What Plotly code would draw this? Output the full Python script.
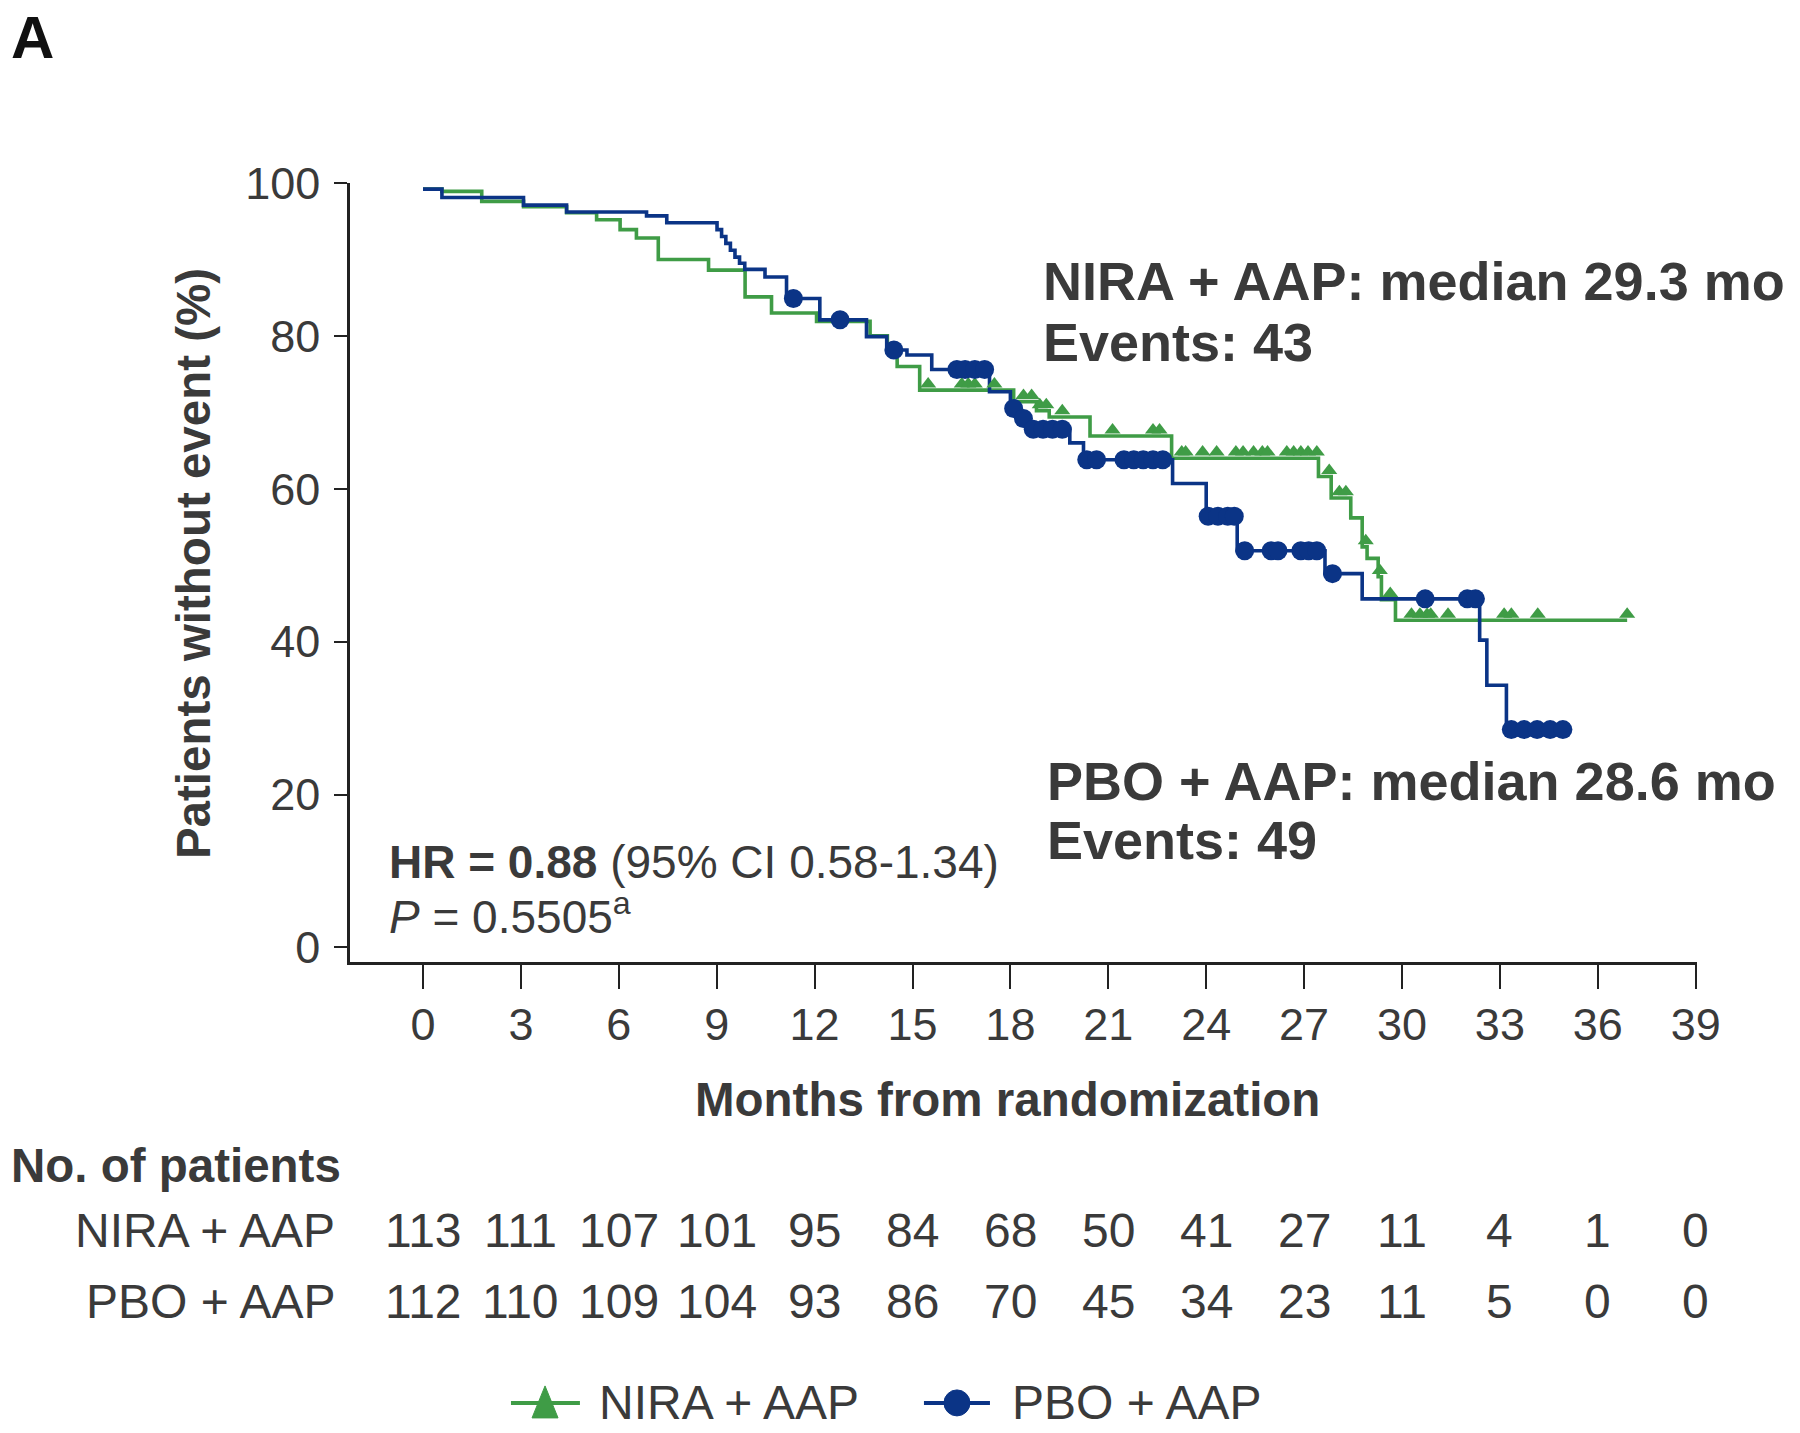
import plotly.graph_objects as go

# ---------------- data ----------------
nira_t = [0, 0.58, 1.80, 3.08, 4.40, 5.32, 6.04, 6.54, 7.21, 8.75, 9.87, 10.68, 12.06, 13.70, 14.23,
          14.53, 15.22, 18.10, 18.80, 19.19, 20.44, 22.94, 27.44, 27.83, 28.43, 28.78, 28.93, 29.27,
          29.37, 29.80]
nira_s = [99.2, 98.9, 97.6, 96.9, 96.1, 95.2, 93.9, 92.8, 90.0, 88.6, 85.1, 83.0, 81.9, 80.0, 78.3,
          76.0, 72.9, 71.4, 70.2, 69.4, 66.9, 64.0, 61.6, 58.8, 56.2, 52.4, 50.9, 48.5, 45.5, 42.8]
nira_end = 36.90
nira_cens = [15.48, 16.51, 16.71, 16.91, 17.51, 18.40, 18.65, 18.90, 19.10, 19.59, 21.13, 22.37,
             22.57, 23.25, 23.37, 23.89, 24.32, 24.91, 25.13, 25.45, 25.72, 25.88, 26.47, 26.68,
             26.90, 27.12, 27.39, 27.77, 28.08, 28.28, 28.89, 29.32, 29.64, 30.29, 30.55, 30.77,
             30.88, 31.41, 33.13, 33.35, 34.16, 36.90]

pbo_t = [0, 0.58, 3.08, 4.40, 6.85, 7.47, 9.01, 9.15, 9.28, 9.42, 9.56, 9.70, 9.86, 10.48, 11.14,
         12.16, 13.59, 14.21, 14.83, 15.59, 17.36, 18.00, 18.30, 18.60, 19.82, 20.24, 22.97, 24.00,
         24.95, 27.64, 28.78, 32.38, 32.60, 33.20]
pbo_s = [99.2, 98.1, 97.1, 96.2, 95.7, 94.8, 93.9, 93.0, 92.1, 91.2, 90.3, 89.5, 88.7, 87.7, 84.9,
         82.1, 79.9, 78.15, 77.5, 75.6, 72.7, 70.5, 69.2, 67.8, 66.0, 63.8, 60.7, 56.4, 51.9,
         48.9, 45.6, 40.2, 34.3, 28.5]
pbo_end = 34.93
pbo_cens = [11.35, 12.78, 14.43, 16.36, 16.61, 16.91, 17.21, 18.10, 18.40, 18.70, 19.00, 19.29,
            19.59, 20.34, 20.64, 21.48, 21.78, 22.07, 22.37, 22.67, 24.06, 24.36, 24.66, 24.86,
            25.18, 25.99, 26.20, 26.90, 27.14, 27.39, 27.87, 30.71, 32.00, 32.25, 33.35, 33.74,
            34.14, 34.54, 34.93]

x_ticks = [0, 3, 6, 9, 12, 15, 18, 21, 24, 27, 30, 33, 36, 39]
y_ticks = [0, 20, 40, 60, 80, 100]
risk_nira = [113, 111, 107, 101, 95, 84, 68, 50, 41, 27, 11, 4, 1, 0]
risk_pbo = [112, 110, 109, 104, 93, 86, 70, 45, 34, 23, 11, 5, 0, 0]

GREEN = "#3f9c46"
BLUE = "#0b3486"
TXT = "#3a3a3a"
FONT = "Arial, Liberation Sans, sans-serif"


def step_at(ts, ss, t):
    v = ss[0]
    for ti, si in zip(ts, ss):
        if ti <= t:
            v = si
    return v


fig = go.Figure()

fig.add_trace(go.Scatter(x=nira_t + [nira_end], y=nira_s + [nira_s[-1]], mode="lines",
                         line=dict(color=GREEN, width=3.6, shape="hv"), showlegend=False,
                         name="NIRA + AAP"))
fig.add_trace(go.Scatter(x=pbo_t + [pbo_end], y=pbo_s + [pbo_s[-1]], mode="lines",
                         line=dict(color=BLUE, width=3.6, shape="hv"), showlegend=False,
                         name="PBO + AAP"))
fig.add_trace(go.Scatter(x=nira_cens, y=[step_at(nira_t, nira_s, t) + 0.8 for t in nira_cens],
                         mode="markers", marker=dict(symbol="triangle-up", size=14, color=GREEN),
                         showlegend=False, cliponaxis=False))
fig.add_trace(go.Scatter(x=pbo_cens, y=[step_at(pbo_t, pbo_s, t) for t in pbo_cens],
                         mode="markers", marker=dict(symbol="circle", size=19, color=BLUE),
                         showlegend=False, cliponaxis=False))


def A(text, x, y, size, xanchor="center", xref="paper", color=TXT, angle=0):
    return dict(text=text, x=x, y=y, xref=xref, yref="paper", xanchor=xanchor,
                yanchor="middle", showarrow=False, textangle=angle,
                font=dict(size=size, color=color))


ann = []
ann.append(A("<b>Patients without event (%)</b>", -0.1166, 0.512, 47.5, angle=-90))
ann.append(A("<b>Months from randomization</b>", 0.4878, -0.176, 47.5))
ann.append(A("<b>A</b>", -0.253, 1.187, 60, xanchor="left", color="#111111"))
ann.append(A("<b>NIRA + AAP: median 29.3 mo</b>", 0.513, 0.874, 54, xanchor="left"))
ann.append(A("<b>Events: 43</b>", 0.513, 0.796, 54, xanchor="left"))
ann.append(A("<b>PBO + AAP: median 28.6 mo</b>", 0.516, 0.2323, 54, xanchor="left"))
ann.append(A("<b>Events: 49</b>", 0.516, 0.1566, 54, xanchor="left"))
ann.append(A("<b>HR = 0.88</b> (95% CI 0.58-1.34)", 0.0275, 0.128, 46, xanchor="left"))
ann.append(A("<i>P</i> = 0.5505<sup>a</sup>", 0.0275, 0.062, 46, xanchor="left"))
ann.append(A("<b>No. of patients</b>", -0.2532, -0.2606, 47.5, xanchor="left"))
ann.append(A("NIRA + AAP", -0.0097, -0.3453, 48, xanchor="right"))
ann.append(A("PBO + AAP", -0.0097, -0.4352, 48, xanchor="right"))
for xt, a, b in zip(x_ticks, risk_nira, risk_pbo):
    ann.append(A(str(a), xt, -0.3453, 48, xref="x"))
    ann.append(A(str(b), xt, -0.4352, 48, xref="x"))
ann.append(A("NIRA + AAP", 0.1834, -0.566, 48, xanchor="left"))
ann.append(A("PBO + AAP", 0.49, -0.566, 48, xanchor="left"))

shapes = []
shapes.append(dict(type="line", xref="paper", yref="paper", x0=0.1195, x1=0.1707, y0=-0.566,
                   y1=-0.566, line=dict(color=GREEN, width=4)))
shapes.append(dict(type="path", xref="paper", yref="paper", xsizemode="pixel", ysizemode="pixel",
                   xanchor=0.1448, yanchor=-0.566, path="M-13,-15 L13,-15 L0,17 Z",
                   fillcolor=GREEN, line=dict(color=GREEN, width=1)))
shapes.append(dict(type="line", xref="paper", yref="paper", x0=0.4261, x1=0.4751, y0=-0.566,
                   y1=-0.566, line=dict(color=BLUE, width=4)))
shapes.append(dict(type="circle", xref="paper", yref="paper", xsizemode="pixel",
                   ysizemode="pixel", xanchor=0.4506, yanchor=-0.566, x0=-13, x1=13, y0=-13,
                   y1=13, fillcolor=BLUE, line=dict(color=BLUE, width=1)))

fig.update_layout(
    width=1800, height=1433,
    margin=dict(l=350, r=103, t=183, b=471, pad=0),
    paper_bgcolor="white", plot_bgcolor="white",
    font=dict(family=FONT, color=TXT),
    annotations=ann, shapes=shapes, showlegend=False,
    xaxis=dict(range=[-2.237, 39.04], tickmode="array", tickvals=x_ticks,
               ticktext=[str(v) for v in x_ticks], ticks="outside", ticklen=24, tickwidth=2.2,
               tickcolor="#222", showline=True, linecolor="#222", linewidth=2.5,
               showgrid=False, zeroline=False, tickfont=dict(size=45, color=TXT),
               ticklabelstandoff=-3),
    yaxis=dict(range=[-1.9, 100], tickmode="array", tickvals=y_ticks,
               ticktext=[str(v) for v in y_ticks], ticks="outside", ticklen=13, tickwidth=2.2,
               tickcolor="#222", showline=True, linecolor="#222", linewidth=2.5,
               showgrid=False, zeroline=False, tickfont=dict(size=45, color=TXT),
               ticklabelstandoff=5),
)

fig.write_html("out.html", config={"displayModeBar": False},
               post_script="document.body.style.margin='0px';")
